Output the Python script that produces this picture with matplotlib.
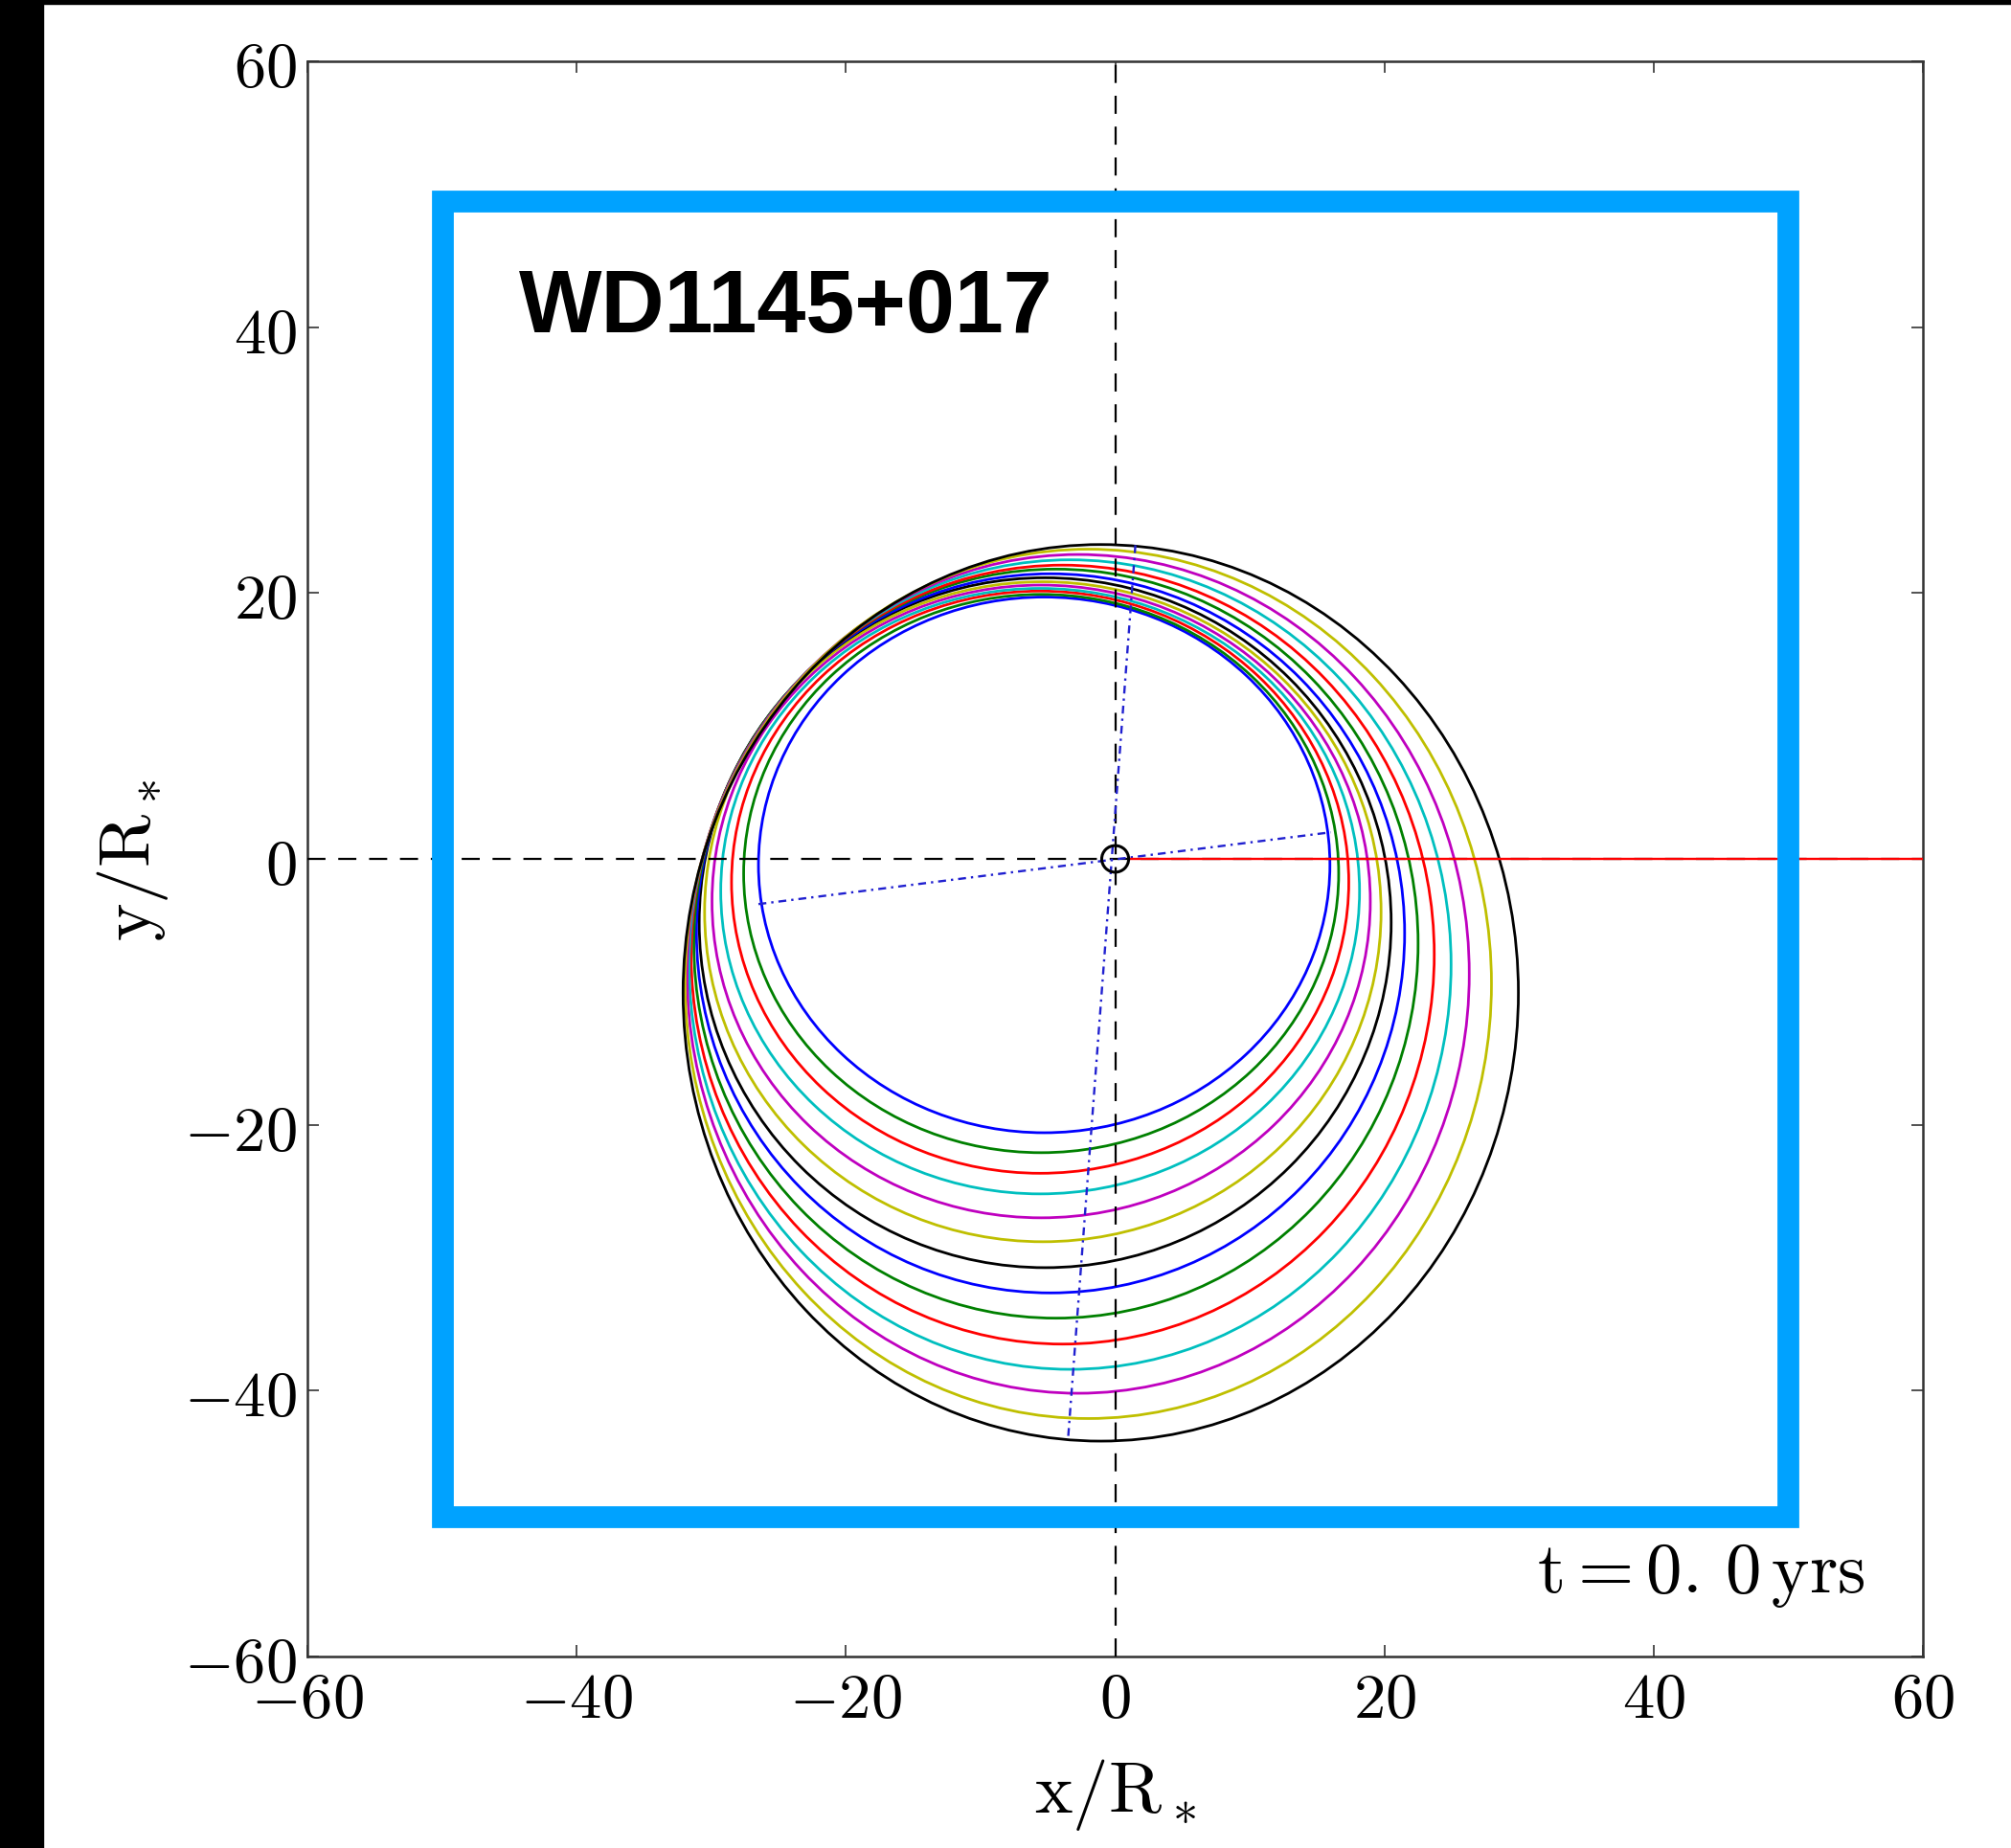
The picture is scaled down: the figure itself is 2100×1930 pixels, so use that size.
import matplotlib
matplotlib.use("Agg")
import matplotlib.pyplot as plt
from matplotlib.patches import Ellipse, Circle, Rectangle

plt.rcParams["mathtext.fontset"] = "cm"

# Orbit extents in units of the stellar radius (innermost to outermost)
x_left = [-26.5, -27.6, -28.5, -29.3, -29.95, -30.5, -30.9,
          -31.1, -31.3, -31.5, -31.65, -31.8, -31.95, -32.1]
x_right = [15.95, 16.6, 17.35, 18.15, 18.95, 19.75, 20.5,
           21.5, 22.5, 23.7, 24.95, 26.3, 27.95, 29.95]
y_bottom = [-20.6, -22.1, -23.65, -25.2, -27.0, -28.8, -30.75,
            -32.65, -34.55, -36.5, -38.4, -40.2, -42.1, -43.8]
y_top = [19.7, 19.9, 20.15, 20.35, 20.6, 20.85, 21.15,
         21.45, 21.8, 22.1, 22.5, 22.9, 23.3, 23.65]
orbit_colors = ["b", "g", "r", "c", "m", "y", "k"] * 2

# Apsidal lines of the innermost and outermost orbits (end points)
apse_x = [[-26.5, 16.0], [1.5, -3.5]]
apse_y = [[-3.4, 2.0], [23.6, -43.6]]

star_radius = 1.0
sight_start = 1.0
time_yrs = "0.\\,0"
ticks = [-60, -40, -20, 0, 20, 40, 60]
box_x = [-50, 50]
box_y = [-49.5, 49.5]

fig = plt.figure(figsize=(21, 19.31), dpi=100)
fig.patch.set_facecolor("white")
ax = fig.add_axes([0.1529, 0.1036, 0.8033, 0.8627])
ax.set_xlim(-60, 60)
ax.set_ylim(-60, 60)

# Orbits
for xl, xr, yb, yt, c in zip(x_left, x_right, y_bottom, y_top, orbit_colors):
    ax.add_patch(Ellipse(((xl + xr) / 2, (yb + yt) / 2), xr - xl, yt - yb,
                         fill=False, ec=c, lw=2.0, zorder=2))

# Reference axes through the star
dash = (0, (8.5, 6.0))
ax.plot([-60, 60], [0, 0], color="k", lw=1.6, ls=dash, zorder=3)
ax.plot([0, 0], [-60, 60], color="k", lw=1.6, ls=dash, zorder=3)

# Apsidal lines
for ax_pts, ay_pts in zip(apse_x, apse_y):
    ax.plot(ax_pts, ay_pts, color="#2020d0", lw=1.7,
            ls=(0, (3.5, 2.2, 1.0, 2.2)), zorder=4)

# Line of sight
ax.plot([sight_start, 60], [0, 0], color="r", lw=1.7, zorder=4)

# Star
ax.add_patch(Circle((0, 0), star_radius, fill=False, ec="k", lw=2.2, zorder=5))

# Highlight box
ax.add_patch(Rectangle((box_x[0], box_y[0]), box_x[1] - box_x[0],
                       box_y[1] - box_y[0], fill=False, ec="#00A2FF",
                       lw=16.4, joinstyle="miter", zorder=10))

ax.text(0.131, 0.831, "WD1145+017", transform=ax.transAxes, fontsize=66,
        fontweight="bold", family="Liberation Sans", ha="left", va="baseline",
        zorder=11)
ax.text(0.964, 0.041, r"$\mathrm{t}=" + time_yrs + r"\,\mathrm{yrs}$",
        transform=ax.transAxes, fontsize=54, ha="right", va="baseline",
        zorder=11)

ax.set_xticks(ticks)
ax.set_yticks(ticks)
ax.set_xticklabels([f"${t}$" for t in ticks])
ax.set_yticklabels([f"${t}$" for t in ticks])
ax.tick_params(direction="in", length=8.5, width=1.2, top=True, right=True,
               labelsize=48, pad=8, color="#333333")
for s in ax.spines.values():
    s.set_linewidth(1.8)
    s.set_color("#333333")

ax.set_xlabel(r"$\mathrm{x/R_*}$", fontsize=54)
ax.set_ylabel(r"$\mathrm{y/R_*}$", fontsize=54)
ax.xaxis.set_label_coords(0.5, -0.0624)
ax.yaxis.set_label_coords(-0.0848, 0.5)

# Dark screen margins on the left and top edges
fig.add_artist(Rectangle((0, 0), 45 / 2100, 1, transform=fig.transFigure,
                         color="black", zorder=20))
fig.add_artist(Rectangle((0, 1 - 5 / 1931), 1, 5 / 1931,
                         transform=fig.transFigure, color="black", zorder=20))

fig.savefig("out.png", dpi=100)
